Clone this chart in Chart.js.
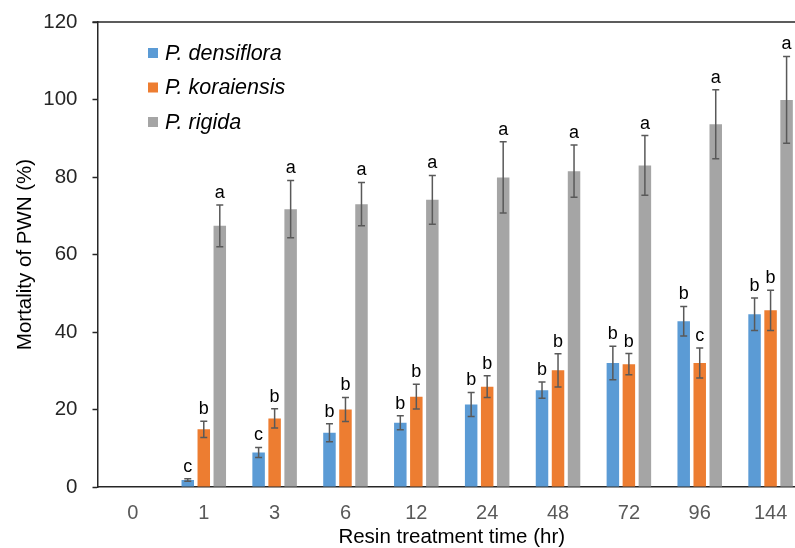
<!DOCTYPE html>
<html>
<head>
<meta charset="utf-8">
<script src="https://cdn.jsdelivr.net/npm/chart.js@4.4.0/dist/chart.umd.min.js"></script>
<style>
  html, body { margin: 0; padding: 0; background: #fff; overflow: hidden; }
  #wrap { width: 812px; height: 548px; }
</style>
</head>
<body>
<div id="wrap"><canvas id="mortChart" width="812" height="548"></canvas></div>
<script>
const hours = ["0", "1", "3", "6", "12", "24", "48", "72", "96", "144"];

const densiflora = [0, 1.8, 8.9, 14.0, 16.6, 21.3, 25.0, 32.0, 42.8, 44.6];
const densifloraErr = [0, 0.3, 1.3, 2.3, 1.8, 3.1, 2.1, 4.3, 3.8, 4.2];
const densifloraSig = ["", "c", "c", "b", "b", "b", "b", "b", "b", "b"];

const koraiensis = [0, 14.9, 17.7, 20.0, 23.3, 25.9, 30.1, 31.7, 32.0, 45.6];
const koraiensisErr = [0, 2.1, 2.5, 3.1, 3.2, 2.8, 4.3, 2.75, 3.9, 5.2];
const koraiensisSig = ["", "b", "b", "b", "b", "b", "b", "b", "c", "b"];

const rigida = [0, 67.4, 71.7, 73.0, 74.1, 79.9, 81.5, 83.0, 93.6, 99.9];
const rigidaErr = [0, 5.4, 7.4, 5.6, 6.3, 9.2, 6.75, 7.7, 8.9, 11.2];
const rigidaSig = ["", "a", "a", "a", "a", "a", "a", "a", "a", "a"];

const yTicks = [0, 20, 40, 60, 80, 100, 120];

// error bars + significance letters + frame line + legend
const extrasPlugin = {
    id: "extras",
    afterDatasetsDraw(chart) {
        const ctx = chart.ctx;
        const y = chart.scales.y;
        const area = chart.chartArea;

        chart.data.datasets.forEach((ds, i) => {
            const meta = chart.getDatasetMeta(i);
            meta.data.forEach((bar, j) => {
                const v = ds.data[j];
                const e = ds.err[j];
                if (!v) return;
                const x = bar.x;
                const top = y.getPixelForValue(v + e);
                const bot = y.getPixelForValue(v - e);

                ctx.save();
                ctx.strokeStyle = "#595959";
                ctx.lineWidth = 1.5;
                ctx.beginPath();
                ctx.moveTo(x, top); ctx.lineTo(x, bot);
                ctx.moveTo(x - 3.5, top); ctx.lineTo(x + 3.5, top);
                ctx.moveTo(x - 3.5, bot); ctx.lineTo(x + 3.5, bot);
                ctx.stroke();

                ctx.fillStyle = "#000";
                ctx.font = "18px 'Liberation Sans', Arial, sans-serif";
                ctx.textAlign = "center";
                ctx.textBaseline = "alphabetic";
                ctx.fillText(ds.sig[j], x, top - 7);
                ctx.restore();
            });
        });

        // top frame line
        ctx.save();
        ctx.strokeStyle = "#262626";
        ctx.lineWidth = 1.5;
        ctx.beginPath();
        ctx.moveTo(area.left - 5, area.top);
        ctx.lineTo(area.right, area.top);
        ctx.stroke();
        ctx.restore();

        // legend
        ctx.save();
        ctx.font = "italic 21.5px 'Liberation Sans', Arial, sans-serif";
        ctx.textBaseline = "middle";
        chart.data.datasets.forEach((ds, i) => {
            const cy = 53 + i * 34.5;
            ctx.fillStyle = ds.backgroundColor;
            ctx.fillRect(148, cy - 5, 10, 10);
            ctx.fillStyle = "#000";
            ctx.fillText(ds.label, 165, cy + 1);
        });
        ctx.restore();
    }
};

new Chart(document.getElementById("mortChart").getContext("2d"), {
    type: "bar",
    data: {
        labels: hours,
        datasets: [
            { label: "P. densiflora", data: densiflora, err: densifloraErr, sig: densifloraSig, backgroundColor: "#5B9BD5" },
            { label: "P. koraiensis", data: koraiensis, err: koraiensisErr, sig: koraiensisSig, backgroundColor: "#ED7D31" },
            { label: "P. rigida", data: rigida, err: rigidaErr, sig: rigidaSig, backgroundColor: "#A5A5A5" }
        ]
    },
    options: {
        responsive: false,
        animation: false,
        categoryPercentage: 0.678,
        barPercentage: 0.78,
        layout: { padding: { top: 22, right: 6, left: 0, bottom: 0 } },
        plugins: { legend: { display: false }, tooltip: { enabled: false } },
        scales: {
            x: {
                grid: { display: false, drawTicks: false },
                border: { color: "#262626", width: 1.5 },
                ticks: { color: "#595959", font: { size: 20, family: "'Liberation Sans', Arial, sans-serif" }, padding: 14 },
                title: {
                    display: true,
                    text: "Resin treatment time (hr)",
                    color: "#000",
                    font: { size: 20.5, family: "'Liberation Sans', Arial, sans-serif", lineHeight: 1 },
                    padding: { top: 2, bottom: 0 }
                },
                afterFit(s) { s.height = 61; s.paddingLeft = 0; s.paddingRight = 0; }
            },
            y: {
                min: 0,
                max: 120,
                afterBuildTicks(s) { s.ticks = yTicks.map(v => ({ value: v })); },
                grid: { drawOnChartArea: false, drawTicks: true, tickLength: 5, tickColor: "#262626", tickWidth: 1.5 },
                border: { color: "#262626", width: 1.5 },
                ticks: { color: "#262626", font: { size: 20.5, family: "'Liberation Sans', Arial, sans-serif" }, padding: 15 },
                title: {
                    display: true,
                    text: "Mortality of PWN (%)",
                    color: "#000",
                    font: { size: 20.5, family: "'Liberation Sans', Arial, sans-serif", lineHeight: 1 },
                    padding: { top: 15, bottom: 0 }
                },
                afterFit(s) { s.width = 97.5; s.paddingTop = 0; s.paddingBottom = 0; }
            }
        }
    },
    plugins: [extrasPlugin]
});
</script>
</body>
</html>
